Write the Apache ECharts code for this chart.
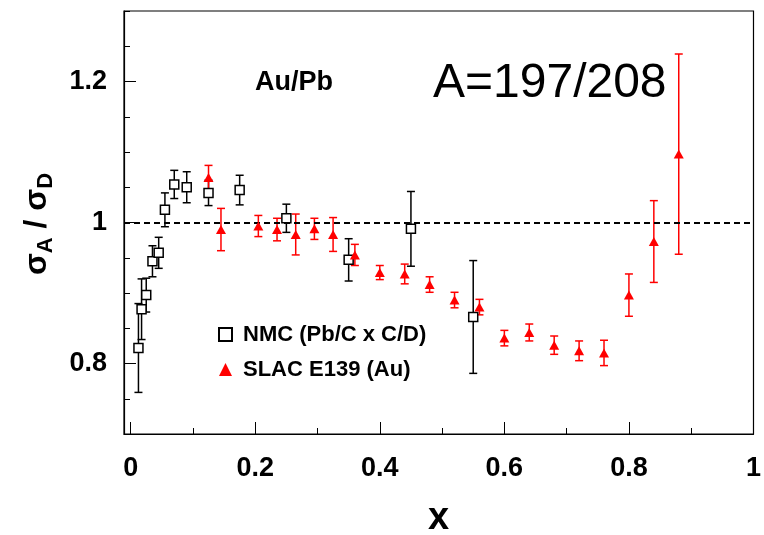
<!DOCTYPE html>
<html>
<head>
<meta charset="utf-8">
<script src="https://cdn.jsdelivr.net/npm/echarts@6/dist/echarts.min.js"></script>
<style>html,body{margin:0;padding:0;background:#fff;}#chart{width:764px;height:535px;}</style>
</head>
<body>
<div id="chart"></div>
<script>
// NMC (Pb/C x C/D)
const nmcX   = [0.0125, 0.0175, 0.025, 0.035, 0.045, 0.055, 0.07, 0.09, 0.125, 0.175, 0.25, 0.35, 0.45, 0.55];
const nmcY   = [0.822, 0.877, 0.897, 0.945, 0.957, 1.018, 1.054, 1.050, 1.042, 1.046, 1.006, 0.947, 0.991, 0.866];
const nmcErr = [0.063, 0.043, 0.024, 0.022, 0.022, 0.024, 0.020, 0.022, 0.018, 0.021, 0.020, 0.030, 0.053, 0.080];
// SLAC E139 (Au)
const slacX   = [0.125, 0.145, 0.205, 0.235, 0.265, 0.295, 0.325, 0.36, 0.40, 0.44, 0.48, 0.52, 0.56, 0.60, 0.64, 0.68, 0.72, 0.76, 0.80, 0.84, 0.88];
const slacY   = [1.064, 0.990, 0.995, 0.990, 0.983, 0.991, 0.983, 0.954, 0.929, 0.927, 0.912, 0.890, 0.880, 0.836, 0.844, 0.826, 0.818, 0.815, 0.897, 0.973, 1.097];
const slacErr = [0.017, 0.030, 0.015, 0.016, 0.029, 0.015, 0.024, 0.015, 0.010, 0.014, 0.011, 0.011, 0.011, 0.011, 0.012, 0.013, 0.014, 0.018, 0.030, 0.058, 0.142];
// axes
const xRange = [-0.0107, 1.0];
const yRange = [0.7, 1.3];
const refLine = 1.0;
const nmcName = 'NMC (Pb/C x C/D)';
const slacName = 'SLAC E139 (Au)';

const FONT = '"Liberation Sans", Arial, Helvetica, sans-serif';

function pts(xs, ys) { return xs.map((x, i) => [x, ys[i]]); }
function errs(xs, ys, es) { return xs.map((x, i) => [x, ys[i] - es[i], ys[i] + es[i]]); }

function errRender(color) {
  return function (params, api) {
    const x = api.value(0);
    const p1 = api.coord([x, api.value(1)]);
    const p2 = api.coord([x, api.value(2)]);
    const w = 4;
    const st = { stroke: color, lineWidth: 1.5 };
    return {
      type: 'group',
      children: [
        { type: 'line', shape: { x1: p1[0], y1: p1[1], x2: p2[0], y2: p2[1] }, style: st },
        { type: 'line', shape: { x1: p1[0] - w, y1: p1[1], x2: p1[0] + w, y2: p1[1] }, style: st },
        { type: 'line', shape: { x1: p2[0] - w, y1: p2[1], x2: p2[0] + w, y2: p2[1] }, style: st }
      ]
    };
  };
}

const chart = echarts.init(document.getElementById('chart'), null, { renderer: 'canvas' });

const axisLbl = { fontFamily: FONT, fontWeight: 'bold', fontSize: 27, color: '#000' };

chart.setOption({
  animation: false,
  backgroundColor: '#fff',
  grid: { left: 124, right: 5, top: 11, bottom: 101, show: true, borderColor: '#000', borderWidth: 1.2, backgroundColor: 'transparent' },
  xAxis: [
    {
      type: 'value', min: xRange[0], max: xRange[1], splitNumber: 5,
      axisLine: { show: true, onZero: false, lineStyle: { color: '#000', width: 1.2 } },
      axisTick: { show: true, inside: true, length: 12, lineStyle: { color: '#000', width: 1 } },
      splitLine: { show: false },
      axisLabel: Object.assign({ margin: 21, showMinLabel: false, formatter: v => String(+v.toFixed(2)) }, axisLbl)
    },
    {
      type: 'value', min: xRange[0], max: xRange[1], splitNumber: 10, position: 'bottom',
      axisLine: { show: false, onZero: false },
      axisTick: { show: true, inside: true, length: 6, lineStyle: { color: '#000', width: 1 } },
      splitLine: { show: false },
      axisLabel: { show: false }
    }
  ],
  yAxis: [
    {
      type: 'value', min: yRange[0], max: yRange[1], splitNumber: 3,
      axisLine: { show: true, onZero: false, lineStyle: { color: '#000', width: 1.2 } },
      axisTick: { show: true, inside: true, length: 12, lineStyle: { color: '#000', width: 1 } },
      splitLine: { show: false },
      axisLabel: Object.assign({ margin: 17, showMinLabel: false, showMaxLabel: false, formatter: v => String(+v.toFixed(2)) }, axisLbl)
    },
    {
      type: 'value', min: yRange[0], max: yRange[1], splitNumber: 12, position: 'left',
      axisLine: { show: false, onZero: false },
      axisTick: { show: true, inside: true, length: 6, lineStyle: { color: '#000', width: 1 } },
      splitLine: { show: false },
      axisLabel: { show: false }
    }
  ],
  legend: {
    orient: 'vertical', left: 213, top: 318, itemWidth: 13, itemHeight: 13, itemGap: 12,
    data: [nmcName, slacName],
    textStyle: { fontFamily: FONT, fontWeight: 'bold', fontSize: 22, color: '#000', lineHeight: 23, padding: [0, 0, 0, 6] }
  },
  graphic: [
    { type: 'text', left: 255, top: 69, style: { text: 'Au/Pb', fontFamily: FONT, fontWeight: 'bold', fontSize: 27, fill: '#000' } },
    { type: 'text', left: 433, top: 60, style: { text: 'A=197/208', fontFamily: FONT, fontSize: 48, fill: '#000' } },
    { type: 'text', left: 428, top: 500, style: { text: 'x', fontFamily: FONT, fontWeight: 'bold', fontSize: 38, fill: '#000' } },
    {
      type: 'text', x: 37, y: 224, rotation: Math.PI / 2,
      style: {
        text: '{m|σ}{s|A}{m| / σ}{s|D}', align: 'center', verticalAlign: 'middle',
        rich: {
          m: { fontFamily: FONT, fontWeight: 'bold', fontSize: 32, fill: '#000', lineHeight: 34 },
          s: { fontFamily: FONT, fontWeight: 'bold', fontSize: 22, fill: '#000', lineHeight: 24, padding: [18, 0, 0, 0] }
        }
      }
    }
  ],
  series: [
    {
      name: 'nmcErr', type: 'custom', renderItem: errRender('#000'),
      data: errs(nmcX, nmcY, nmcErr), encode: { x: 0, y: [1, 2] }, z: 3, silent: true,
      markLine: {
        silent: true, symbol: 'none', label: { show: false },
        lineStyle: { color: '#000', type: [6, 4], width: 2.2 },
        data: [{ yAxis: refLine }]
      }
    },
    {
      name: 'slacErr', type: 'custom', renderItem: errRender('#ff0000'),
      data: errs(slacX, slacY, slacErr), encode: { x: 0, y: [1, 2] }, z: 3, silent: true
    },
    {
      name: nmcName, type: 'scatter', data: pts(nmcX, nmcY), symbol: 'rect', symbolSize: 9, z: 5,
      itemStyle: { color: '#fff', borderColor: '#000', borderWidth: 1.5, opacity: 1 }
    },
    {
      name: slacName, type: 'scatter', data: pts(slacX, slacY), symbol: 'triangle', symbolSize: [10, 9], z: 5,
      itemStyle: { color: '#ff0000', opacity: 1 }
    }
  ]
});
</script>
</body>
</html>
